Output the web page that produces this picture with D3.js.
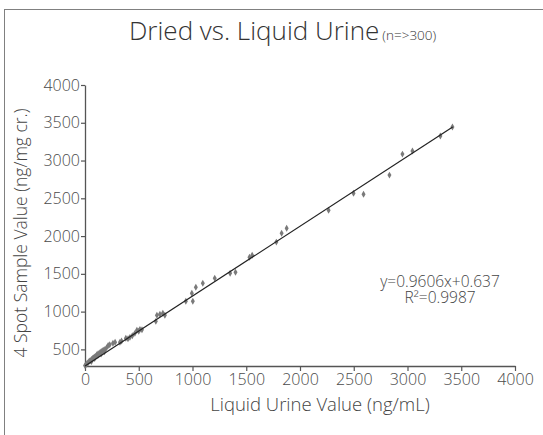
<!DOCTYPE html>
<html>
<head>
<meta charset="utf-8">
<script src="https://cdn.jsdelivr.net/npm/d3@7"></script>
<style>
  body { margin: 0; background: #fff; }
  text { font-family: "Open Sans", sans-serif; }
</style>
</head>
<body>
<svg id="chart" width="543" height="435"></svg>
<script>
//-- data --//
var liquidValues = [0, 10, 20, 30, 40, 50, 60, 60, 70, 80, 90, 90, 100, 110, 120, 120, 130, 140, 150, 150, 160, 170, 180, 185, 200, 215, 230, 260, 280, 325, 340, 380, 400, 418, 440, 464, 483, 500, 511, 530,
    659, 669, 697, 724, 743, 938, 1003, 994, 1031, 1096, 1207, 1350, 1400, 1530, 1555, 1780, 1829, 1876, 2266, 2498, 2591, 2832, 2953, 3046, 3306, 3418];
var spotValues = [285, 300, 315, 325, 345, 350, 365, 340, 380, 390, 400, 380, 410, 430, 440, 420, 445, 460, 470, 440, 480, 490, 470, 500, 520, 550, 560, 580, 593, 593, 610, 646, 640, 659, 680, 712, 752, 740, 765, 760,
    871, 951, 964, 977, 951, 1136, 1136, 1243, 1322, 1375, 1441, 1508, 1520, 1720, 1745, 1920, 2038, 2104, 2343, 2568, 2555, 2807, 3085, 3125, 3324, 3443];
var trendX = [0, 3420];
var trendY = [280, 3445];
var xTicks = [0, 500, 1000, 1500, 2000, 2500, 3000, 3500, 4000];
var yTicks = [500, 1000, 1500, 2000, 2500, 3000, 3500, 4000];
var equationLines = ["y=0.9606x+0.637", "R\u00b2=0.9987"];
//-- data --//

var svg = d3.select("#chart"),
    margin = {top: 85, left: 85, bottom: 69, right: 28},
    width = +svg.attr("width"),
    height = +svg.attr("height");

//-- outer frame (only top/left edges fall inside the picture) --//
svg.append("rect")
    .attr("x", 4.5).attr("y", 9.5)
    .attr("width", 620).attr("height", 500)
    .attr("fill", "none")
    .attr("stroke", "#808080")
    .attr("stroke-width", 1);

//-- scales --//
var x = d3.scaleLinear()
    .domain([0, 4000])
    .range([margin.left, width - margin.right]);

var y = d3.scaleLinear()
    .domain([280, 4000])
    .range([height - margin.bottom, margin.top]);

//-- axes --//
var fmt = d3.format("d");

svg.append("g")
    .attr("transform", `translate(0,${height - margin.bottom})`)
    .call(d3.axisBottom(x).tickValues(xTicks).tickFormat(fmt).tickSize(5).tickSizeOuter(0).tickPadding(3));

svg.append("g")
    .attr("transform", `translate(${margin.left},0)`)
    .call(d3.axisLeft(y).tickValues(yTicks).tickFormat(fmt).tickSize(4).tickSizeOuter(0).tickPadding(1));

svg.selectAll(".domain").attr("stroke", "#555").attr("stroke-width", 1.3);
svg.selectAll(".tick line").attr("stroke", "#555").attr("stroke-width", 1.2);
svg.selectAll(".tick text")
    .style("font-family", "Open Sans")
    .style("font-weight", 300)
    .style("font-size", "16px")
    .attr("fill", "#4a4a4a");

//-- points --//
var points = liquidValues.map((v, i) => ({lx: v, sv: spotValues[i]}));

svg.append("g")
    .selectAll("path")
    .data(points)
    .enter().append("path")
    .attr("d", d3.symbol().type(d3.symbolDiamond).size(14))
    .attr("transform", d => `translate(${x(d.lx)},${y(d.sv)})`)
    .attr("fill", "#7a7a7a");

//-- trend line --//
var line = d3.line()
    .x(d => x(d[0]))
    .y(d => y(d[1]));

svg.append("path")
    .datum(trendX.map((v, i) => [v, trendY[i]]))
    .attr("d", line)
    .attr("fill", "none")
    .attr("stroke", "#222")
    .attr("stroke-width", 1.2);

//-- equation (one text block, two lines) --//
var eq = svg.append("text")
    .attr("x", 440)
    .attr("y", 287)
    .attr("text-anchor", "middle")
    .style("font-size", "15.5px")
    .style("font-weight", 300)
    .attr("fill", "#444");

eq.selectAll("tspan")
    .data(equationLines)
    .enter().append("tspan")
    .attr("x", 440)
    .attr("dy", (d, i) => i ? 16 : 0)
    .text(d => d);

//-- title --//
var title = svg.append("text")
    .attr("x", 129)
    .attr("y", 40)
    .attr("fill", "#333")
    .style("font-weight", 300);
title.append("tspan").style("font-size", "26px").text("Dried vs. Liquid Urine");
title.append("tspan").attr("dx", 3).style("font-size", "13.5px").text("(n=>300)");

//-- axis labels --//
svg.append("text")
    .attr("x", 320)
    .attr("y", 411)
    .attr("text-anchor", "middle")
    .style("font-size", "18.5px")
    .style("font-weight", 300)
    .attr("fill", "#444")
    .text("Liquid Urine Value (ng/mL)");

svg.append("text")
    .attr("transform", "translate(27,233) rotate(-90)")
    .attr("text-anchor", "middle")
    .style("font-size", "17.5px")
    .style("font-weight", 300)
    .attr("fill", "#444")
    .text("4 Spot Sample Value (ng/mg cr.)");
</script>
</body>
</html>
